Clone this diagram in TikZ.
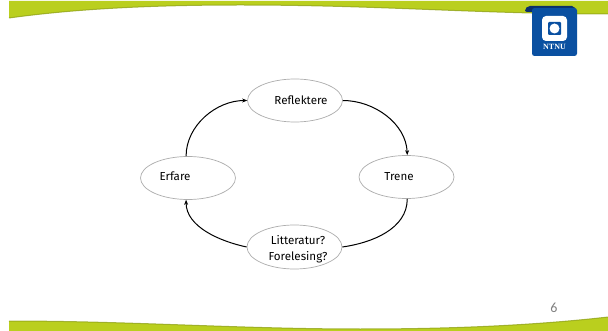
\documentclass[tikz,border=0pt]{standalone}
\usepackage{fontspec}
\setmainfont{Fira Sans}
\newfontfamily\logofont{Liberation Serif}
\newfontfamily\numfont{Carlito}
\definecolor{bandgreen}{HTML}{BACF1E}
\definecolor{bandedge}{HTML}{8DA012}
\definecolor{ntnublue}{HTML}{0A50A1}
\definecolor{ntnudark}{HTML}{0B2F6B}
\tikzset{
  stage/.style={draw=black!32,line width=0.7pt,fill=white,ellipse,minimum width=95pt,minimum height=43pt,inner sep=0pt},
  lbl/.style={font=\fontsize{11.6}{16}\selectfont,align=center,text=black,inner sep=0pt},
  flow/.style={draw=black,line width=1pt,-{Stealth[length=5pt,width=4pt]}},
  flowplain/.style={draw=black,line width=1pt}
}
\usetikzlibrary{shapes.geometric,arrows.meta}
\begin{document}
\begin{tikzpicture}[x=1pt,y=-1pt]
\useasboundingbox (0,0) rectangle (608,331);
\fill[white] (0,0) rectangle (608,331);
% top band
\fill[bandgreen] (9,1) -- (608,1) -- (608,14) .. controls (480,14) and (380,5) .. (240,5) .. controls (130,5) and (60,11) .. (9,18) -- cycle;
\draw[bandedge,line width=1pt,opacity=.75] (608,14) .. controls (480,14) and (380,5) .. (240,5) .. controls (130,5) and (60,11) .. (9,18);
% bottom band
\fill[bandgreen] (9,331) -- (608,331) -- (608,317) .. controls (520,327) and (430,329) .. (360,329) .. controls (240,329) and (130,321) .. (9,321) -- cycle;
\draw[bandedge,line width=1pt,opacity=.75] (608,317) .. controls (520,327) and (430,329) .. (360,329) .. controls (240,329) and (130,321) .. (9,321);
% logo
\fill[ntnudark,rounded corners=2pt] (525,12) -- (525,9) -- (528,6) -- (574,6) -- (577,12) -- cycle;
\fill[ntnublue,rounded corners=2.5pt] (532,8) -- (577,8) -- (577,56) -- (532,56) -- cycle;
\fill[white,rounded corners=4pt] (542,16) rectangle (567,41);
\fill[ntnublue,rounded corners=1pt] (548,22) rectangle (561,35);
\fill[white] (554.5,28.5) circle (5);
\node[text=white,font=\logofont\bfseries\fontsize{8}{8}\selectfont,inner sep=0pt] (logotext) at (554.5,47) {NTNU};
% page number
\node[text=black!50,font=\numfont\fontsize{14}{14}\selectfont,inner sep=0pt] (pagenum) at (554,308) {6};
% stages
\node[stage] (reflektere) at (295,100.5) {};
\node[stage] (erfare) at (188,178) {};
\node[stage] (trene) at (406.5,177) {};
\node[stage,minimum height=44pt] (litt) at (294.5,247) {};
\node[lbl] (treflektere) at (301,100.5) {Reflektere};
\node[lbl] (terfare) at (175,176.5) {Erfare};
\node[lbl] (ttrene) at (399,176.5) {Trene};
\node[lbl] (tlitt) at (298,249) {Litteratur?\\Forelesing?};
% connectors
\draw[flow] (erfare.95) to[out=90,in=180,looseness=0.95] (reflektere.west);
\draw[flow] (reflektere.east) to[out=0,in=92,looseness=0.95] (trene.88);
\draw[flowplain] (trene.272) to[out=-90,in=8,looseness=0.95] (litt.east);
\draw[flow] (litt.west) to[out=168,in=-90,looseness=0.9] (erfare.-95);
\end{tikzpicture}
\end{document}
